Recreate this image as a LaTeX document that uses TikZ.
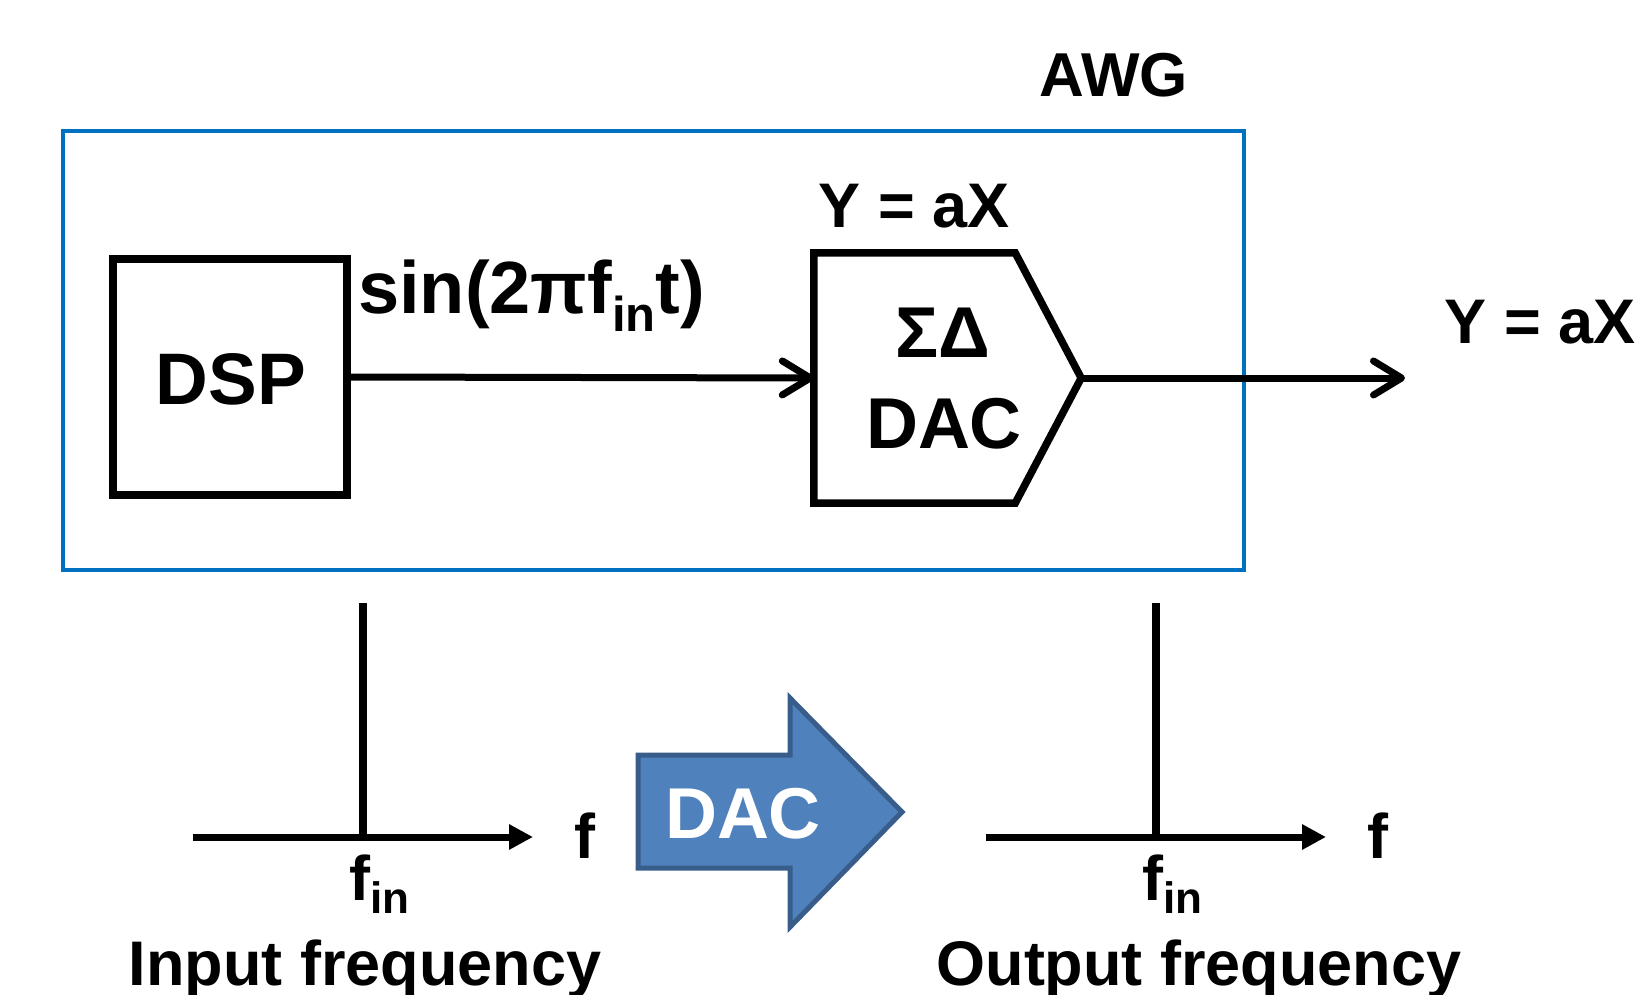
\documentclass[tikz,border=0pt]{standalone}
\usepackage{fontspec}
\setmainfont{Liberation Sans}
\usetikzlibrary{arrows.meta,calc}
\definecolor{awgblue}{RGB}{0,112,192}
\definecolor{arrowfill}{HTML}{4F81BD}
\definecolor{arrowedge}{HTML}{385D8A}
\newcommand\myfs[1]{\fontsize{#1}{#1}\selectfont\bfseries}
\tikzset{
  blk/.style={draw=black, line width=7.5pt, inner sep=0pt},
  lbl/.style={inner sep=0pt, text=black},
  sig/.style={line width=7pt, line cap=round, -{Straight Barb[length=28pt,width=34pt,round]}},
  axis/.style={line width=7pt, -{Triangle[length=24pt,width=24pt]}},
  peak/.style={line width=7.5pt},
}
\begin{document}
\begin{tikzpicture}[x=1pt,y=-1pt]
\useasboundingbox (0,0) rectangle (1645,995);
% AWG box
\node[draw=awgblue, line width=4pt, minimum width=1181pt, minimum height=439pt, inner sep=0pt] (awg) at (653.5,350.5) {};
\node[lbl, anchor=base] (awglbl) at (1114,97) {\myfs{62}AWG};
% DSP
\node[blk, minimum width=234pt, minimum height=236pt] (dsp) at (230,377) {};
\node[lbl, anchor=base] (dsptxt) at (231,404) {\myfs{73}DSP};
% Sigma-Delta DAC
\node[inner sep=0pt, minimum width=267pt, minimum height=250pt] (sd) at (947.5,378) {};
\draw[line width=7.5pt, line join=miter] (sd.north west) -- ($(sd.north east)+(-66,0)$) -- (sd.east) -- ($(sd.south east)+(-66,0)$) -- (sd.south west) -- cycle;
\node[lbl, anchor=base] (sdtxt1) at (943,357) {\myfs{72}ΣΔ};
\node[lbl, anchor=base] (sdtxt2) at (944,448) {\myfs{72}DAC};
\node[lbl, anchor=base] (yax1) at (914,227) {\myfs{63}Y = aX};
% signal path
\draw[sig] (dsp.east) -- (sd.west);
\node[lbl, anchor=base west] (sinlbl) at (358,313) {\myfs{74}sin(2πf\raisebox{-18pt}{\myfs{49}in}t)};
\coordinate (out) at (1405,378);
\draw[sig] (sd.east) -- (out);
\node[lbl, anchor=base] (yax2) at (1540,343) {\myfs{63}Y = aX};
% input spectrum
\coordinate (a1s) at (193,837);
\coordinate (a1e) at (533,837);
\coordinate (p1t) at (363,603);
\coordinate (p1b) at (363,837);
\draw[axis] (a1s) -- (a1e);
\draw[peak] (p1t) -- (p1b);
\node[lbl, anchor=base] (f1) at (585,858) {\myfs{63}f};
\node[lbl, anchor=base west] (fin1) at (349,900) {\myfs{63}f\raisebox{-13pt}{\myfs{44}in}};
\node[lbl, anchor=base] (inlbl) at (365,985) {\myfs{63}Input frequency};
% output spectrum
\coordinate (a2s) at (986,837);
\coordinate (a2e) at (1326,837);
\coordinate (p2t) at (1156,603);
\coordinate (p2b) at (1156,837);
\draw[axis] (a2s) -- (a2e);
\draw[peak] (p2t) -- (p2b);
\node[lbl, anchor=base] (f2) at (1378,858) {\myfs{63}f};
\node[lbl, anchor=base west] (fin2) at (1142,900) {\myfs{63}f\raisebox{-13pt}{\myfs{44}in}};
\node[lbl, anchor=base] (outlbl) at (1199,985) {\myfs{63}Output frequency};
% big DAC arrow
\draw[fill=arrowfill, draw=arrowedge, line width=5pt, line join=miter]
  (638,755) -- (790,755) -- (790,698) -- (902,812) -- (790,927) -- (790,868) -- (638,868) -- cycle;
\node[lbl, anchor=base, text=white] (dacarrow) at (743,838) {\myfs{72}DAC};
\end{tikzpicture}
\end{document}
